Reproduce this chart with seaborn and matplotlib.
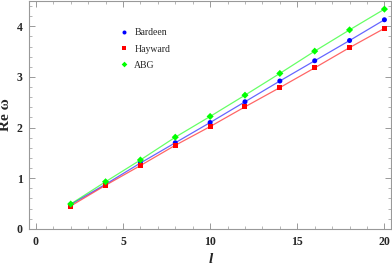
import matplotlib
matplotlib.use("Agg")
import matplotlib.pyplot as plt
import seaborn as sns
import pandas as pd
from matplotlib.ticker import MultipleLocator

# values
ells = [2, 4, 6, 8, 10, 12, 14, 16, 18, 20]
bardeen = [0.48, 0.88, 1.30, 1.70, 2.10, 2.51, 2.92, 3.32, 3.72, 4.13]
hayward = [0.45, 0.86, 1.25, 1.65, 2.02, 2.41, 2.79, 3.18, 3.58, 3.96]
abg = [0.49, 0.93, 1.36, 1.81, 2.22, 2.64, 3.07, 3.51, 3.93, 4.34]
models = ["Bardeen", "Hayward", "ABG"]
colors = {"Bardeen": "#0000ff", "Hayward": "#ff0000", "ABG": "#00ff00"}
markers = {"Bardeen": "o", "Hayward": "s", "ABG": "D"}

frames = []
for name, vals in zip(models, [bardeen, hayward, abg]):
    frames.append(pd.DataFrame({"l": ells, "re_omega": vals, "model": name}))
df = pd.concat(frames, ignore_index=True)

sns.set_style("ticks")
plt.rcParams["font.family"] = ["Liberation Serif", "DejaVu Serif"]

fig = plt.figure(figsize=(3.92, 2.67), dpi=100)
ax = fig.add_axes([0.075, 0.143, 0.923, 0.855])

sns.lineplot(data=df, x="l", y="re_omega", hue="model", palette=colors,
             hue_order=models, lw=0.9, alpha=0.6, legend=False, ax=ax)
sns.scatterplot(data=df, x="l", y="re_omega", hue="model", style="model",
                palette=colors, markers=markers, hue_order=models,
                style_order=models, s=13, edgecolor="none", ax=ax, zorder=3)

ax.set_xlim(-0.37, 20.39)
ax.set_ylim(0, 4.51)
ax.xaxis.set_major_locator(MultipleLocator(5))
ax.xaxis.set_minor_locator(MultipleLocator(1))
ax.yaxis.set_major_locator(MultipleLocator(1))
ax.yaxis.set_minor_locator(MultipleLocator(0.2))
ax.tick_params(which="both", direction="in", top=True, right=True,
               color="#999999", labelsize=8.5, pad=5)
ax.tick_params(which="major", length=4, width=0.7)
ax.tick_params(which="minor", length=2, width=0.5)
for lab in ax.get_xticklabels() + ax.get_yticklabels():
    lab.set_fontweight("bold")
for sp in ax.spines.values():
    sp.set_color("#999999")
    sp.set_linewidth(0.8)

ax.set_xlabel("l", fontsize=11, fontstyle="italic", fontweight="bold", labelpad=4)
ax.set_ylabel("Re ω", fontsize=11, fontweight="bold", labelpad=3)

leg = ax.legend(loc="upper left", bbox_to_anchor=(0.22, 0.9), frameon=False,
                fontsize=7, handletextpad=0.1, labelspacing=0.75,
                markerscale=0.8, borderpad=0)

fig.savefig("out.png", dpi=100)
